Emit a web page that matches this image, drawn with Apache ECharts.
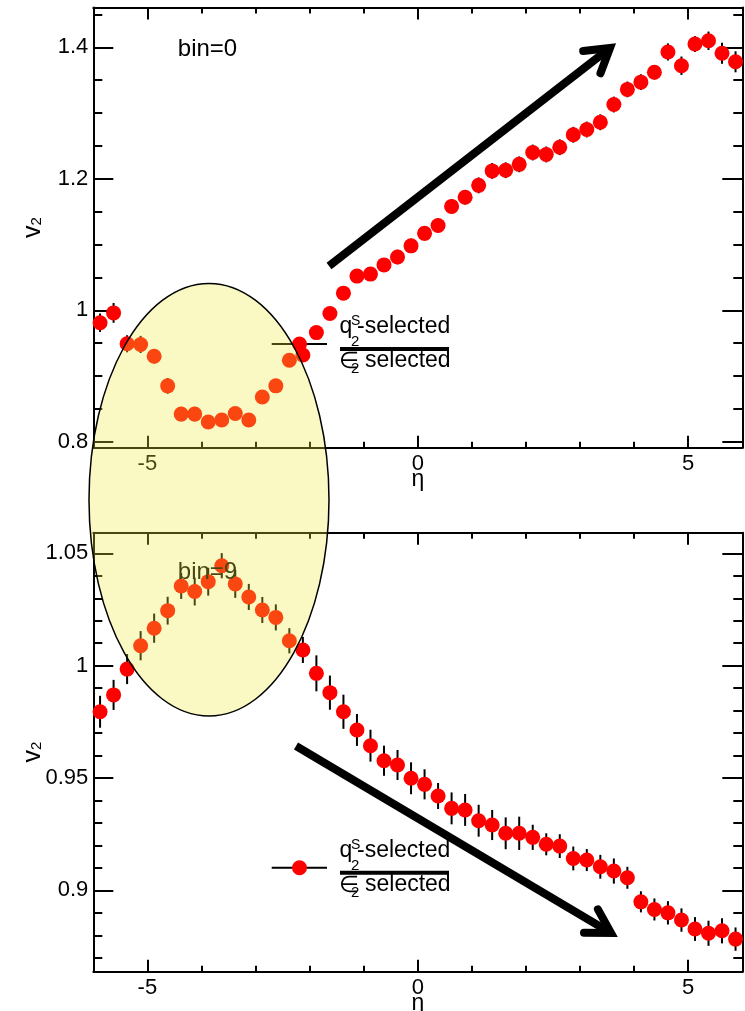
<!DOCTYPE html>
<html>
<head>
<meta charset="utf-8">
<script src="https://cdn.jsdelivr.net/npm/echarts@6/dist/echarts.min.js"></script>
<style>
  html, body { margin: 0; padding: 0; background: #fff; }
  #chart { width: 745px; height: 1011px; }
</style>
</head>
<body>
<div id="chart"></div>
<script>
// Pseudorapidity bin centres (48 bins of width 0.25)
const etaBins = [-5.875, -5.625, -5.375, -5.125, -4.875, -4.625, -4.375, -4.125,
  -3.875, -3.625, -3.375, -3.125, -2.875, -2.625, -2.375, -2.125,
  -1.875, -1.625, -1.375, -1.125, -0.875, -0.625, -0.375, -0.125,
  0.125, 0.375, 0.625, 0.875, 1.125, 1.375, 1.625, 1.875,
  2.125, 2.375, 2.625, 2.875, 3.125, 3.375, 3.625, 3.875,
  4.125, 4.375, 4.625, 4.875, 5.125, 5.375, 5.625, 5.875];

// v2 ratio, q2^s-selected over eps2-selected, bin=0
const v2Bin0 = [0.981, 0.996, 0.949, 0.948, 0.930, 0.885, 0.842, 0.842,
  0.830, 0.833, 0.843, 0.833, 0.868, 0.885, 0.924, 0.932,
  0.966, 0.995, 1.026, 1.052, 1.055, 1.069, 1.081, 1.098,
  1.117, 1.129, 1.158, 1.172, 1.190, 1.212, 1.213, 1.222,
  1.240, 1.237, 1.248, 1.267, 1.275, 1.286, 1.313, 1.336,
  1.347, 1.362, 1.393, 1.372, 1.405, 1.410, 1.391, 1.378];
const v2Bin0Err = [0.014, 0.015, 0.013, 0.013, 0.011, 0.012, 0.011, 0.011,
  0.010, 0.010, 0.010, 0.010, 0.010, 0.010, 0.010, 0.010,
  0.010, 0.010, 0.010, 0.010, 0.010, 0.010, 0.011, 0.011,
  0.011, 0.011, 0.011, 0.011, 0.012, 0.012, 0.012, 0.012,
  0.012, 0.012, 0.012, 0.012, 0.012, 0.012, 0.012, 0.012,
  0.012, 0.011, 0.013, 0.014, 0.012, 0.014, 0.016, 0.016];

// same ratio, bin=9
const v2Bin9 = [0.9795, 0.987, 0.9985, 1.0089, 1.0167, 1.0245, 1.0355, 1.033,
  1.0374, 1.0445, 1.0364, 1.0306, 1.0248, 1.0215, 1.0111, 1.007,
  0.9966, 0.988, 0.9795, 0.9714, 0.9644, 0.9577, 0.9558, 0.9499,
  0.9472, 0.942, 0.9365, 0.9358, 0.931, 0.9291, 0.9254, 0.9254,
  0.9236, 0.9205, 0.9197, 0.9142, 0.9135, 0.9105, 0.9086, 0.9056,
  0.8949, 0.8915, 0.89, 0.8868, 0.8828, 0.8809, 0.882, 0.8783];
const v2Bin9Err = [0.0071, 0.0067, 0.0067, 0.0065, 0.0065, 0.0062, 0.0058, 0.0062,
  0.0062, 0.0056, 0.0062, 0.0058, 0.0058, 0.0058, 0.0056, 0.0058,
  0.0080, 0.0076, 0.0076, 0.0071, 0.0071, 0.0067, 0.0067, 0.0071,
  0.0067, 0.0058, 0.0071, 0.0071, 0.0071, 0.0067, 0.0071, 0.0074,
  0.0056, 0.0049, 0.0053, 0.0053, 0.0049, 0.0053, 0.0056, 0.0049,
  0.0047, 0.0049, 0.0052, 0.0052, 0.0053, 0.0056, 0.0056, 0.0052];

// Tick positions
const xMajorTicks = [-5, 0, 5];
const xMinorTicks = [-5, -4, -3, -2, -1, 0, 1, 2, 3, 4, 5];
const yTopMajorTicks = [0.8, 1, 1.2, 1.4];
const yTopMinorTicks = [0.8, 0.85, 0.9, 0.95, 1, 1.05, 1.1, 1.15, 1.2, 1.25, 1.3, 1.35, 1.4, 1.45];
const yBottomMajorTicks = [0.9, 0.95, 1, 1.05];
const yBottomMinorTicks = [0.87, 0.88, 0.89, 0.9, 0.91, 0.92, 0.93, 0.94, 0.95, 0.96,
  0.97, 0.98, 0.99, 1, 1.01, 1.02, 1.03, 1.04, 1.05];

const panelLabels = ['bin=0', 'bin=9'];
const xTitle = 'η';

const FONT = '"Liberation Sans", Arial, Helvetica, sans-serif';
const LBL = 22;
const TXT = 23;
const INK = '#000';
const MARK = '#ff0000';

const X_RANGE = [-6, 6];
const Y_RANGES = [[0.7909, 1.4606], [0.8638, 1.0592]];
const grids = [
  { left: 93.3, top: 7.5, width: 649, height: 440.2, outerBoundsMode: 'none' },
  { left: 93.3, top: 532.7, width: 649, height: 439, outerBoundsMode: 'none' }
];

const noLine = { show: false, onZero: false };
const frameLine = { show: true, onZero: false, lineStyle: { color: INK, width: 2 } };

function xAxes(g) {
  const base = { gridIndex: g, type: 'value', min: X_RANGE[0], max: X_RANGE[1], splitLine: { show: false } };
  return [
    Object.assign({}, base, {
      position: 'bottom', axisLine: frameLine,
      axisTick: { inside: true, length: 12, customValues: xMajorTicks, lineStyle: { color: INK, width: 2 } },
      axisLabel: { customValues: xMajorTicks, margin: 5, color: INK, fontSize: LBL, fontFamily: FONT },
      name: xTitle, nameLocation: 'middle', nameGap: 20, nameMoveOverlap: false,
      nameTextStyle: { color: INK, fontSize: 23, fontFamily: FONT }
    }),
    Object.assign({}, base, {
      position: 'bottom', axisLine: noLine,
      axisTick: { inside: true, length: 6, customValues: xMinorTicks, lineStyle: { color: INK, width: 2 } },
      axisLabel: { show: false }
    }),
    Object.assign({}, base, {
      position: 'top', axisLine: frameLine,
      axisTick: { inside: true, length: 12, customValues: xMajorTicks, lineStyle: { color: INK, width: 2 } },
      axisLabel: { show: false }
    }),
    Object.assign({}, base, {
      position: 'top', axisLine: noLine,
      axisTick: { inside: true, length: 6, customValues: xMinorTicks, lineStyle: { color: INK, width: 2 } },
      axisLabel: { show: false }
    })
  ];
}

function yAxes(g, major, minor) {
  const base = { gridIndex: g, type: 'value', min: Y_RANGES[g][0], max: Y_RANGES[g][1], splitLine: { show: false } };
  return [
    Object.assign({}, base, {
      position: 'left', axisLine: frameLine,
      axisTick: { inside: true, length: 20, customValues: major, lineStyle: { color: INK, width: 2 } },
      axisLabel: { customValues: major, margin: 5, color: INK, fontSize: LBL, fontFamily: FONT },
      name: '{v|v}{s|2}', nameLocation: 'middle', nameGap: 49, nameRotate: 90, nameMoveOverlap: false,
      nameTextStyle: {
        color: INK, fontFamily: FONT,
        rich: {
          v: { fontSize: 25, lineHeight: 24, verticalAlign: 'top', fontFamily: FONT, color: INK },
          s: { fontSize: 15, lineHeight: 15, verticalAlign: 'bottom', padding: [14, 0, 0, 0], fontFamily: FONT, color: INK }
        }
      }
    }),
    Object.assign({}, base, {
      position: 'left', axisLine: noLine,
      axisTick: { inside: true, length: 9, customValues: minor, lineStyle: { color: INK, width: 2 } },
      axisLabel: { show: false }
    }),
    Object.assign({}, base, {
      position: 'right', axisLine: frameLine,
      axisTick: { inside: true, length: 20, customValues: major, lineStyle: { color: INK, width: 2 } },
      axisLabel: { show: false }
    }),
    Object.assign({}, base, {
      position: 'right', axisLine: noLine,
      axisTick: { inside: true, length: 9, customValues: minor, lineStyle: { color: INK, width: 2 } },
      axisLabel: { show: false }
    })
  ];
}

function errorBarItem(params, api) {
  const x = api.value(0);
  const lo = api.coord([x, api.value(1)]);
  const hi = api.coord([x, api.value(2)]);
  return {
    type: 'line',
    shape: { x1: lo[0], y1: lo[1], x2: hi[0], y2: hi[1] },
    style: { stroke: INK, lineWidth: 2 }
  };
}

function panelSeries(axisIdx, values, errors) {
  return [
    {
      type: 'custom', xAxisIndex: axisIdx, yAxisIndex: axisIdx, z: 2,
      renderItem: errorBarItem,
      encode: { x: 0, y: [1, 2] },
      data: etaBins.map((e, i) => [e, values[i] - errors[i], values[i] + errors[i]])
    },
    {
      type: 'scatter', xAxisIndex: axisIdx, yAxisIndex: axisIdx, z: 3,
      symbol: 'circle', symbolSize: 15,
      itemStyle: { color: MARK, opacity: 1 },
      data: etaBins.map((e, i) => [e, values[i]])
    }
  ];
}

// Legend entry: marker on a line, followed by the ratio label
function legendEntry(L) {
  const z = 50;
  const txt = (x, y, s, size) => ({
    type: 'text', x: x, y: y, z: z,
    style: { text: s, fontSize: size, fontFamily: FONT, fill: INK, align: 'left', verticalAlign: 'middle' }
  });
  return [
    { type: 'line', z: z, shape: { x1: 271.7, y1: L, x2: 327, y2: L }, style: { stroke: INK, lineWidth: 2 } },
    { type: 'circle', z: z, shape: { cx: 299.5, cy: L, r: 7.5 }, style: { fill: MARK } },
    txt(339.5, L - 17, 'q', TXT),
    txt(351, L - 23, 'S', 14),
    txt(351, L - 2, '2', 15),
    txt(357, L - 17, '-selected', TXT),
    { type: 'rect', z: z, shape: { x: 340, y: L + 3, width: 109, height: 4 }, style: { fill: INK } },
    txt(339, L + 18, '∈', TXT),
    txt(351, L + 25, '2', 15),
    txt(365, L + 17, 'selected', TXT)
  ];
}

// Thick arrow with an open chevron head
function arrow(x0, y0, x1, y1, head, spread) {
  const a = Math.atan2(y1 - y0, x1 - x0);
  const p1 = [x1 - head * Math.cos(a - spread), y1 - head * Math.sin(a - spread)];
  const p2 = [x1 - head * Math.cos(a + spread), y1 - head * Math.sin(a + spread)];
  return [
    { type: 'line', z: 110, shape: { x1: x0, y1: y0, x2: x1, y2: y1 }, style: { stroke: INK, lineWidth: 8 } },
    { type: 'polyline', z: 110, shape: { points: [p1, [x1, y1], p2] },
      style: { stroke: INK, lineWidth: 8, lineCap: 'round', lineJoin: 'miter', fill: null } }
  ];
}

const graphics = [].concat(
  [
    { type: 'text', x: 207.5, y: 49, z: 50,
      style: { text: panelLabels[0], fontSize: 24, fontFamily: FONT, fill: INK, align: 'center', verticalAlign: 'middle' } },
    { type: 'text', x: 207.5, y: 572, z: 50,
      style: { text: panelLabels[1], fontSize: 24, fontFamily: FONT, fill: INK, align: 'center', verticalAlign: 'middle' } }
  ],
  legendEntry(344),
  legendEntry(867.7),
  [
    // highlighted region spanning both panels
    { type: 'ellipse', z: 100, shape: { cx: 209, cy: 499.7, rx: 120, ry: 216.3 },
      style: { fill: 'rgba(240,235,60,0.3)', stroke: INK, lineWidth: 1.5 } }
  ],
  arrow(329, 266, 610, 48, 27, 0.55),
  arrow(296, 746, 611, 933, 27, 0.53)
);

const chart = echarts.init(document.getElementById('chart'), null, { renderer: 'canvas' });
chart.setOption({
  animation: false,
  backgroundColor: '#fff',
  grid: grids,
  xAxis: [].concat(xAxes(0), xAxes(1)),
  yAxis: [].concat(yAxes(0, yTopMajorTicks, yTopMinorTicks), yAxes(1, yBottomMajorTicks, yBottomMinorTicks)),
  series: [].concat(panelSeries(0, v2Bin0, v2Bin0Err), panelSeries(4, v2Bin9, v2Bin9Err)),
  graphic: { elements: graphics }
});
</script>
</body>
</html>
